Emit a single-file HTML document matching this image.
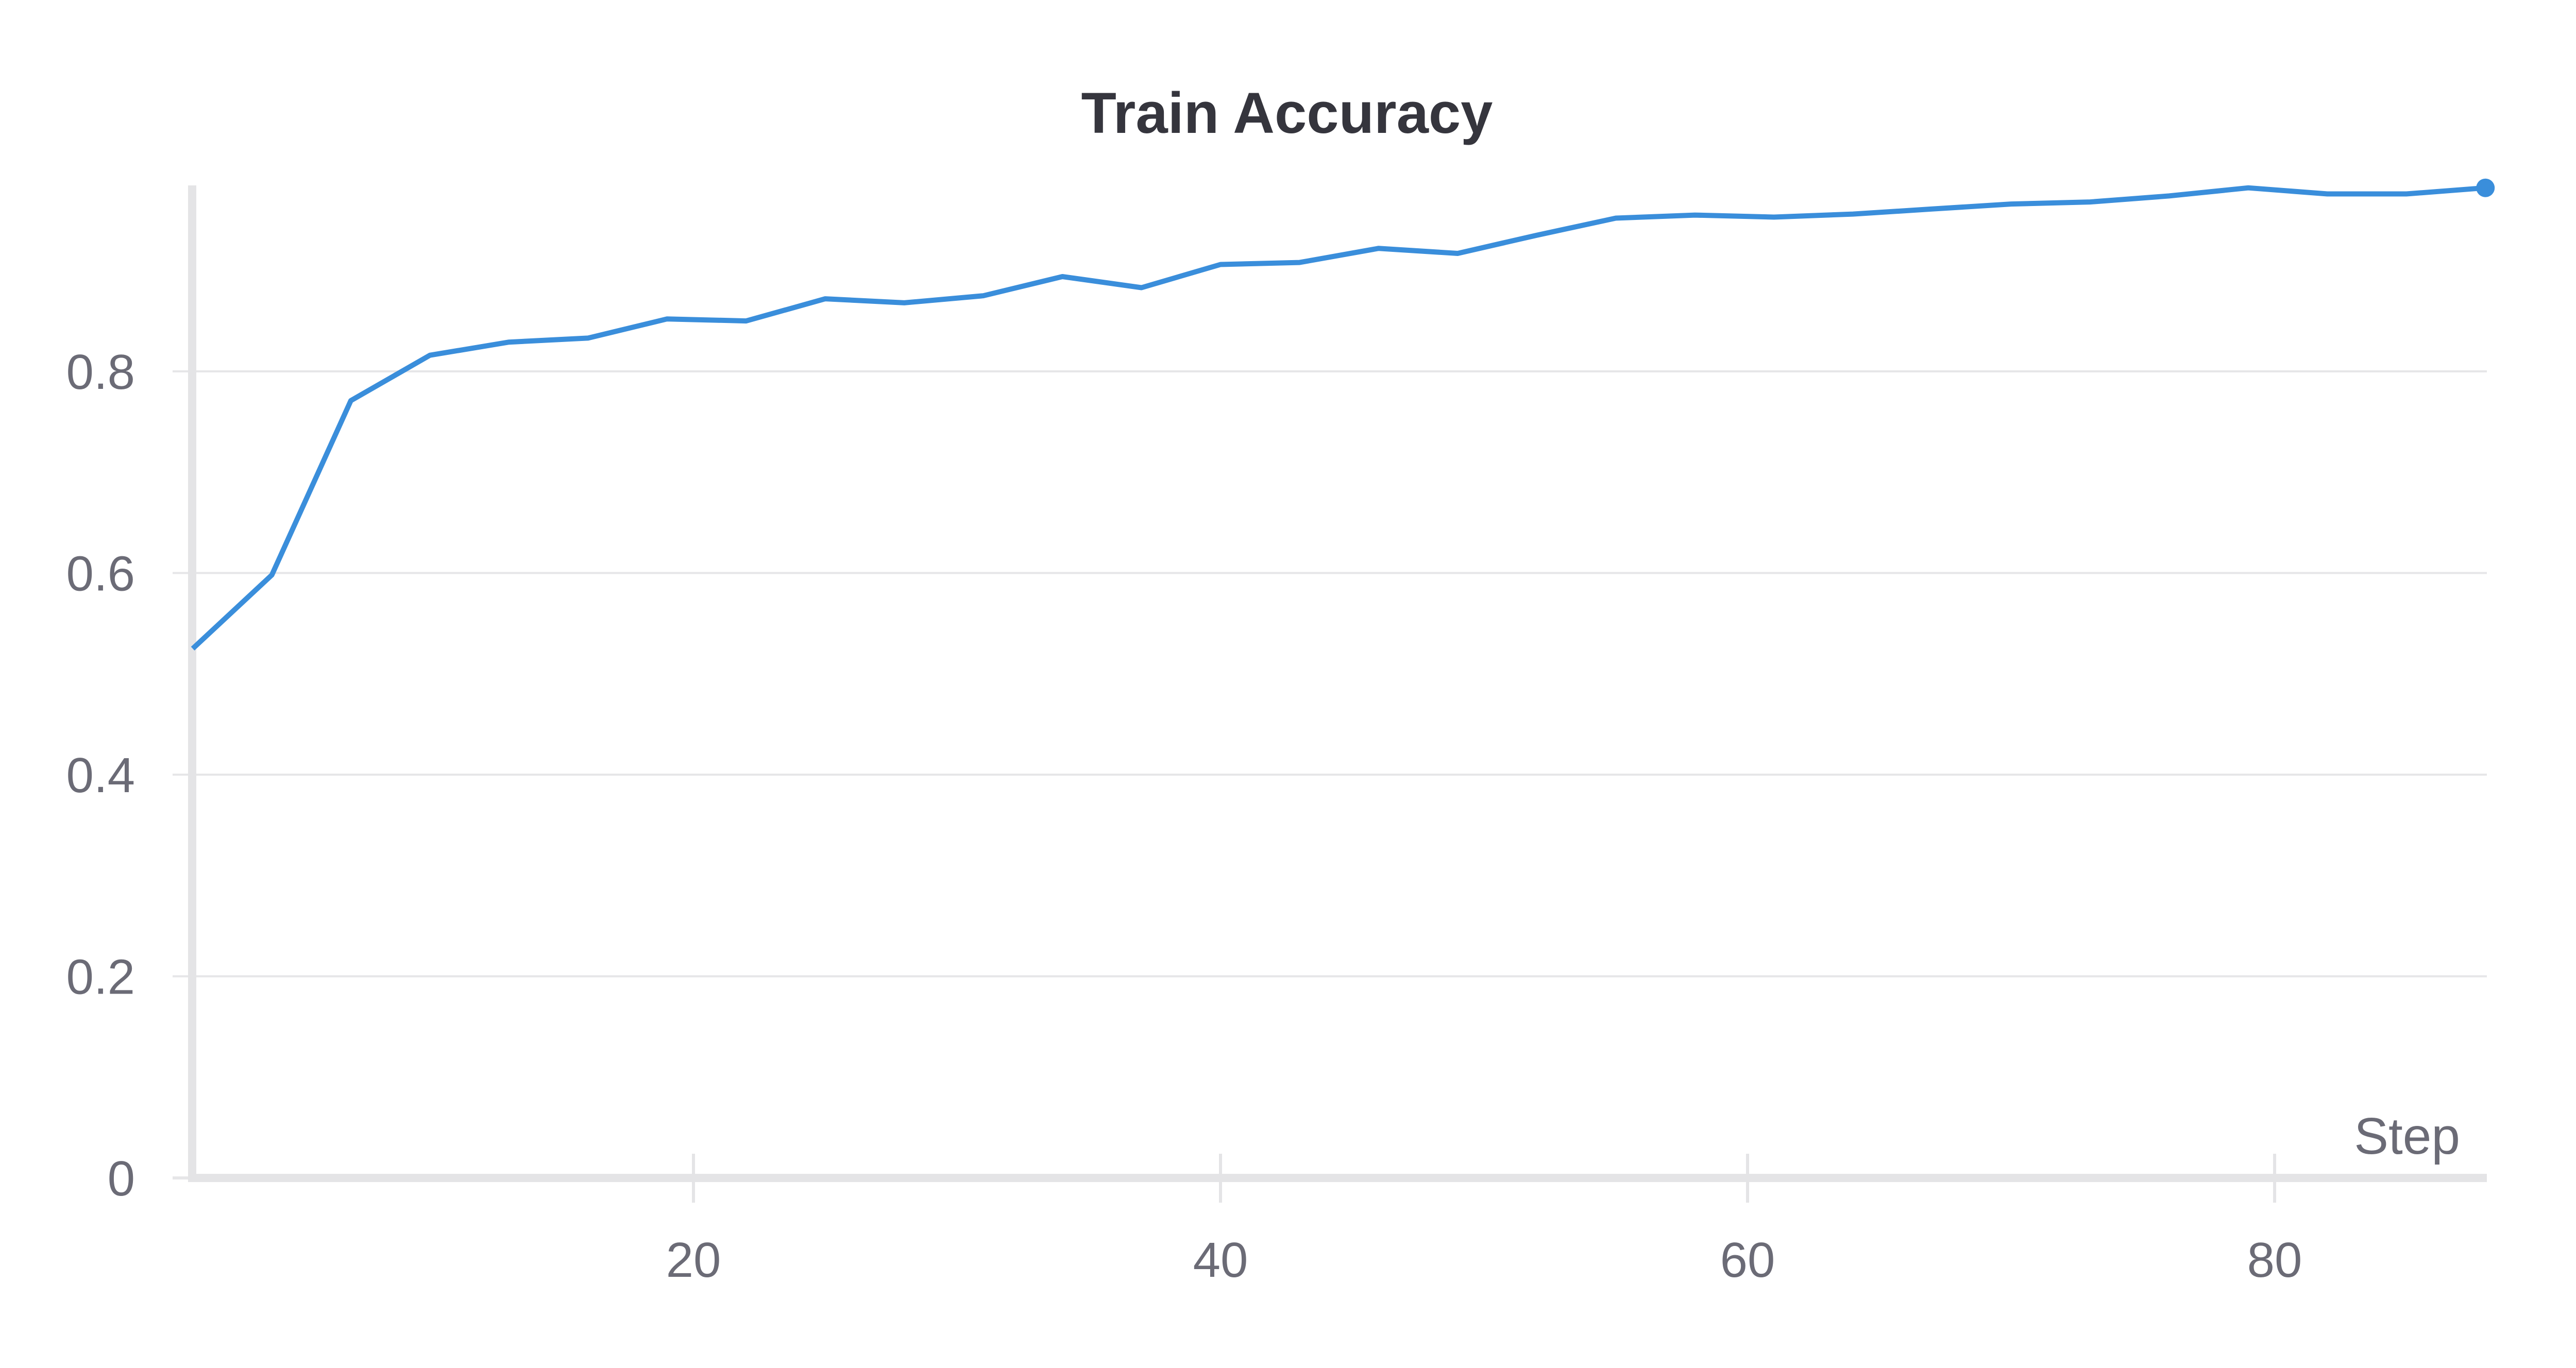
<!DOCTYPE html>
<html><head><meta charset="utf-8"><style>
html,body{margin:0;padding:0;background:#fff;width:5056px;height:2656px;overflow:hidden}
svg{display:block}
text{font-family:"Liberation Sans",sans-serif}
</style></head><body>
<svg id="chart" width="5056" height="2656" viewBox="0 0 5056 2656" xmlns="http://www.w3.org/2000/svg">
<text x="2498" y="258" text-anchor="middle" font-size="112" font-weight="bold" fill="#35353d">Train Accuracy</text>
<g id="grid"></g>
<g id="axes"></g>
<g id="series"></g>
</svg>
<script>
const steps = [1,4,7,10,13,16,19,22,25,28,31,34,37,40,43,46,49,52,55,58,61,64,67,70,73,76,79,82,85,88];
const accuracy = [0.525,0.598,0.771,0.816,0.829,0.833,0.852,0.850,0.872,0.868,0.875,0.894,0.883,0.906,0.908,0.922,0.917,0.935,0.952,0.955,0.953,0.956,0.961,0.966,0.968,0.974,0.982,0.976,0.976,0.982];
const yTicks = [0,0.2,0.4,0.6,0.8];
const yTickLabels = ["0","0.2","0.4","0.6","0.8"];
const xTicks = [20,40,60,80];
const xTickLabels = ["20","40","60","80"];

const NS = "http://www.w3.org/2000/svg";
const X0 = 323, XU = 51.15;
const Y0 = 2287, YU = 1957.5;
const xs = s => X0 + s * XU;
const ys = v => Y0 - v * YU;
const PL = 373, PR = 4827;

function mk(tag, attrs, parent) {
  const e = document.createElementNS(NS, tag);
  for (const k in attrs) e.setAttribute(k, attrs[k]);
  parent.appendChild(e);
  return e;
}
const grid = document.getElementById('grid');
const axes = document.getElementById('axes');
const series = document.getElementById('series');

yTicks.forEach((v, i) => {
  const y = ys(v);
  if (v > 0) {
    const g = mk('line', {x1: 335, x2: PR, y1: y, y2: y, stroke: '#e6e6e8', 'stroke-width': 4}, grid);
    
    
  } else {
    const g = mk('line', {x1: 335, x2: PL, y1: y, y2: y, stroke: '#e6e6e8', 'stroke-width': 6}, grid);
    
    
  }
  const t = mk('text', {x: 262, y: y + 34, 'text-anchor': 'end', 'font-size': 96, fill: '#6b6b76'}, axes);
  t.textContent = yTickLabels[i];
  
  
});

const ya = mk('rect', {x: PL - 8, y: 360, width: 16, height: Y0 + 8 - 360, fill: '#e4e4e6'}, axes);


const xa = mk('rect', {x: PL, y: Y0 - 8, width: PR - PL, height: 16, fill: '#e4e4e6'}, axes);



xTicks.forEach((s, i) => {
  const x = xs(s);
  const tm = mk('rect', {x: x - 3, y: 2240, width: 6, height: 95, fill: '#e4e4e6'}, axes);
  
  
  const t = mk('text', {x: x, y: 2479, 'text-anchor': 'middle', 'font-size': 96, fill: '#6b6b76'}, axes);
  t.textContent = xTickLabels[i];
  
  
});

const st = mk('text', {x: 4775, y: 2240, 'text-anchor': 'end', 'font-size': 100, fill: '#6b6b76'}, axes);
st.textContent = 'Step';



const pts = steps.map((s, i) => xs(s).toFixed(1) + ',' + ys(accuracy[i]).toFixed(1)).join(' ');
const line = mk('polyline', {points: pts, fill: 'none', stroke: '#3a8edb', 'stroke-width': 10, 'stroke-linejoin': 'round'}, series);


const last = steps.length - 1;
const dot = mk('circle', {cx: xs(steps[last]), cy: ys(accuracy[last]), r: 18, fill: '#3a8edb'}, series);


</script>
</body></html>
